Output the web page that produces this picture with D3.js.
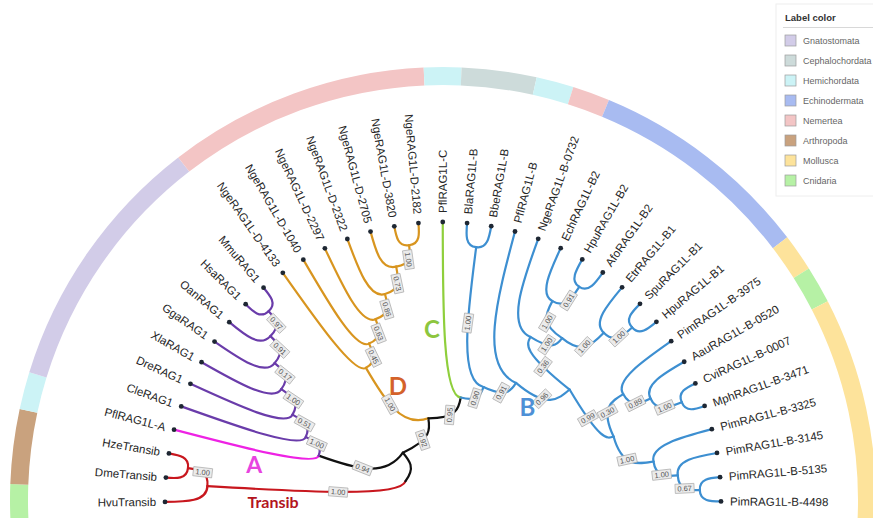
<!DOCTYPE html>
<html>
<head>
<meta charset="utf-8">
<script src="https://cdn.jsdelivr.net/npm/d3@7"></script>
<style>
  html, body { margin: 0; padding: 0; background: #fff; }
  svg { display: block; }
</style>
</head>
<body>
<svg id="chart" width="873" height="518"></svg>
<script>
// ---- Data -----------------------------------------------------------------
// RAG1 / RAG1-like / Transib tree: branch lengths and support values (Newick).
const newick =
  "(" +
    "(HvuTransib:0.42,(DmeTransib:0.21,HzeTransib:0.21)1.00:0.21)1.00:1.94," +
    "(" +
      "(PflRAG1L-A:1.46,(CleRAG1:1.27,(DreRAG1:1.05,(XlaRAG1:0.82,(GgaRAG1:0.61,(OanRAG1:0.40,(HsaRAG1:0.21,MmuRAG1:0.21)0.97:0.19)0.91:0.21)0.17:0.21)1.00:0.23)0.51:0.22)1.00:0.19)0.94:0.70," +
      "(" +
        "(NgeRAG1L-D-4133:1.25,(NgeRAG1L-D-1040:1.05,(NgeRAG1L-D-2297:0.85,(NgeRAG1L-D-2322:0.64,(NgeRAG1L-D-2705:0.40,(NgeRAG1L-D-3820:0.21,NgeRAG1L-D-2182:0.21)1.00:0.19)0.73:0.24)0.86:0.21)0.63:0.20)0.45:0.20)1.00:0.70," +
        "(PflRAG1L-C:1.74," +
          "((BlaRAG1L-B:0.23,BbeRAG1L-B:0.23)1.00:1.35," +
           "(PflRAG1L-B:1.40," +
             "((NgeRAG1L-B-0732:0.93,((EchRAG1L-B2:0.51,(HpuRAG1L-B2:0.25,AfoRAG1L-B2:0.25)0.91:0.26)1.00:0.26,(EtrRAG1L-B1:0.46,(SpuRAG1L-B1:0.22,HpuRAG1L-B1:0.22)1.00:0.24)1.00:0.31)1.00:0.16)0.36:0.17," +
              "((PimRAG1L-B-3975:0.69,(AauRAG1L-B-0520:0.47,(CviRAG1L-B-0007:0.20,MphRAG1L-B-3471:0.20)1.00:0.27)0.89:0.22)0.30:0.27," +
               "(PimRAG1L-B-3325:0.64,(PimRAG1L-B-3145:0.42,(PimRAG1L-B-5135:0.21,PimRAG1L-B-4498:0.21)0.67:0.21)1.00:0.22)1.00:0.32)0.99:0.14" +
             ")0.96:0.30" +
           ")0.91:0.18" +
          ")0.90:0.16" +
        ")0.95:0.21" +
      ")0.92:0.21" +
    "):0.20" +
  ");";

// Taxonomic groups used for the outer colour ring and the legend
const taxa = ["Gnatostomata", "Cephalochordata", "Hemichordata", "Echinodermata",
              "Nemertea", "Arthropoda", "Mollusca", "Cnidaria"];
const taxonColors = ["#d2cce8", "#cddbda", "#ccf3f6", "#a8bbf1",
                     "#f3c5c5", "#c9a27e", "#fde39b", "#b6f1a5"];

const leafTaxon = {
  "HvuTransib": "Cnidaria", "DmeTransib": "Arthropoda", "HzeTransib": "Arthropoda",
  "PflRAG1L-A": "Hemichordata",
  "CleRAG1": "Gnatostomata", "DreRAG1": "Gnatostomata", "XlaRAG1": "Gnatostomata",
  "GgaRAG1": "Gnatostomata", "OanRAG1": "Gnatostomata", "HsaRAG1": "Gnatostomata",
  "MmuRAG1": "Gnatostomata",
  "NgeRAG1L-D-4133": "Nemertea", "NgeRAG1L-D-1040": "Nemertea", "NgeRAG1L-D-2297": "Nemertea",
  "NgeRAG1L-D-2322": "Nemertea", "NgeRAG1L-D-2705": "Nemertea", "NgeRAG1L-D-3820": "Nemertea",
  "NgeRAG1L-D-2182": "Nemertea",
  "PflRAG1L-C": "Hemichordata",
  "BlaRAG1L-B": "Cephalochordata", "BbeRAG1L-B": "Cephalochordata",
  "PflRAG1L-B": "Hemichordata", "NgeRAG1L-B-0732": "Nemertea",
  "EchRAG1L-B2": "Echinodermata", "HpuRAG1L-B2": "Echinodermata", "AfoRAG1L-B2": "Echinodermata",
  "EtrRAG1L-B1": "Echinodermata", "SpuRAG1L-B1": "Echinodermata", "HpuRAG1L-B1": "Echinodermata",
  "PimRAG1L-B-3975": "Mollusca", "AauRAG1L-B-0520": "Cnidaria", "CviRAG1L-B-0007": "Mollusca",
  "MphRAG1L-B-3471": "Mollusca", "PimRAG1L-B-3325": "Mollusca", "PimRAG1L-B-3145": "Mollusca",
  "PimRAG1L-B-5135": "Mollusca", "PimRAG1L-B-4498": "Mollusca"
};

// Clades and their branch colours
const cladeNames  = ["Transib", "A", "RAG1", "D", "C", "B"];
const cladeColors = ["#c8171e", "#ee22e4", "#6a3caa", "#d8951f", "#8fcf3c", "#3d8fd1"];
const cladeMembers = [
  ["HvuTransib", "DmeTransib", "HzeTransib"],
  ["PflRAG1L-A"],
  ["CleRAG1", "MmuRAG1"],
  ["NgeRAG1L-D-4133", "NgeRAG1L-D-2182"],
  ["PflRAG1L-C"],
  ["BlaRAG1L-B", "PimRAG1L-B-4498"]
];

// ---- Newick parser -----------------------------------------------------------
function parseNewick(s) {
  let i = 0;
  function node() {
    const n = { children: [] };
    if (s[i] === "(") {
      i++;
      n.children.push(node());
      while (s[i] === ",") { i++; n.children.push(node()); }
      i++; // closing parenthesis
    }
    let name = "";
    while (i < s.length && !",():;".includes(s[i])) name += s[i++];
    n.name = name.trim();
    if (s[i] === ":") {
      i++;
      let len = "";
      while (i < s.length && !",();".includes(s[i])) len += s[i++];
      n.length = +len;
    }
    if (!n.children.length) delete n.children;
    return n;
  }
  return node();
}

// ---- Layout ----------------------------------------------------------------
const cx = 443, cy = 500;
const tipR = 278;
const ringInner = 415, ringOuter = 433;

const root = d3.hierarchy(parseNewick(newick));
const leaves = root.leaves();
const leafNames = leaves.map(d => d.data.name);

// leaves evenly spread over the half circle (degrees, counter-clockwise from east)
const angleScale = d3.scalePoint().domain(leafNames).range([180.4, -0.3]);
const step = Math.abs(angleScale(leafNames[1]) - angleScale(leafNames[0]));

root.eachBefore(d => { d.len = d.parent ? d.parent.len + (d.data.length || 0) : 0; });
const rScale = d3.scaleLinear().domain([0, d3.max(leaves, d => d.len)]).range([42, tipR]);

root.eachAfter(d => {
  d.angle = d.children ? d3.mean(d.children, c => c.angle) : angleScale(d.data.name);
  d.r = d.children ? rScale(d.len) : tipR;
  d.color = "#111";
});

// colour each clade from its most recent common ancestor
cladeMembers.forEach((members, k) => {
  let anc = leaves.find(l => l.data.name === members[0]);
  const all = () => members.every(m => anc.leaves().some(l => l.data.name === m));
  while (!all()) anc = anc.parent;
  anc.each(d => { d.color = cladeColors[k]; });
});

function pt(a, r) {
  const t = a * Math.PI / 180;
  return [cx + r * Math.cos(t), cy - r * Math.sin(t)];
}
function textRot(a) { return a > 91 ? 180 - a : -a; }

// link: leaves the parent along its circle, arrives radially at the child
function linkPath(s, t) {
  const p0 = pt(s.angle, s.r);
  const c1 = pt(t.angle, s.r);
  const c2 = pt(t.angle, (s.r + t.r) / 2);
  const p3 = pt(t.angle, t.r);
  const p = d3.path();
  p.moveTo(p0[0], p0[1]);
  p.bezierCurveTo(c1[0], c1[1], c2[0], c2[1], p3[0], p3[1]);
  return p.toString();
}

const svg = d3.select("#chart");

// ---- Outer colour ring ---------------------------------------------------------
const runs = [];
leaves.forEach(l => {
  const tx = leafTaxon[l.data.name];
  const last = runs[runs.length - 1];
  if (last && last.taxon === tx) last.lo = l.angle;
  else runs.push({ taxon: tx, hi: l.angle, lo: l.angle });
});
const arc = d3.arc().innerRadius(ringInner).outerRadius(ringOuter);
const toRad = a => (90 - a) * Math.PI / 180;
svg.append("g")
  .attr("transform", `translate(${cx},${cy})`)
  .selectAll("path")
  .data(runs)
  .join("path")
  .attr("d", d => arc({ startAngle: toRad(d.hi + step / 2), endAngle: toRad(d.lo - step / 2) }))
  .attr("fill", d => taxonColors[taxa.indexOf(d.taxon)]);

// ---- Branches ------------------------------------------------------------------
const gLinks = svg.append("g")
  .attr("fill", "none")
  .attr("stroke-width", 2.2)
  .attr("stroke-linecap", "round");
const linkSel = gLinks.selectAll("path")
  .data(root.links())
  .join("path")
  .attr("d", d => linkPath(d.source, d.target))
  .attr("stroke", d => d.target.color);

// ---- Tips ------------------------------------------------------------------------
svg.append("g").selectAll("circle")
  .data(leaves)
  .join("circle")
  .attr("cx", d => pt(d.angle, d.r)[0])
  .attr("cy", d => pt(d.angle, d.r)[1])
  .attr("r", 2.4)
  .attr("fill", "#1e2733");

svg.append("g")
  .attr("font-family", "'Liberation Sans', Arial, sans-serif")
  .attr("font-size", 11.5)
  .attr("fill", "#262626")
  .selectAll("text")
  .data(leaves)
  .join("text")
  .attr("transform", d => {
    const p = pt(d.angle, tipR + 9);
    return `translate(${p[0]},${p[1]}) rotate(${textRot(d.angle)})`;
  })
  .attr("text-anchor", d => d.angle > 91 ? "end" : "start")
  .attr("dy", "0.35em")
  .text(d => d.data.name);

// ---- Support values on branches ------------------------------------------------
const supports = [];
linkSel.each(function (d) {
  if (!d.target.children || !d.target.data.name) return;
  const L = this.getTotalLength();
  const p = this.getPointAtLength(Math.min(L / 2, 70));
  const a = Math.atan2(cy - p.y, p.x - cx) * 180 / Math.PI;
  supports.push({ x: p.x, y: p.y, a: a, v: d.target.data.name });
});
const gSup = svg.append("g").selectAll("g")
  .data(supports)
  .join("g")
  .attr("transform", d => `translate(${d.x},${d.y}) rotate(${textRot(d.a)})`);
gSup.append("rect")
  .attr("x", -9.5).attr("y", -4.6).attr("width", 19).attr("height", 9.2)
  .attr("fill", "#ebebeb").attr("stroke", "#a9a9a9").attr("stroke-width", 0.7);
gSup.append("text")
  .attr("text-anchor", "middle")
  .attr("dy", "0.35em")
  .attr("font-family", "'Liberation Sans', Arial, sans-serif")
  .attr("font-size", 7.5)
  .attr("fill", "#555")
  .text(d => d.v);

// ---- Clade names -------------------------------------------------------------------
const cladeTags = [
  { text: "Transib", color: "#b3151d", size: 16, a: 180.7, r: 170 },
  { text: "A", color: "#e843e0", size: 23, a: 169.5, r: 192 },
  { text: "D", color: "#d4622a", size: 24, a: 111.7, r: 122 },
  { text: "C", color: "#8dc63f", size: 24, a: 93.7, r: 171 },
  { text: "B", color: "#4e90d6", size: 24, a: 47.6, r: 125 }
];
svg.append("g")
  .attr("font-family", "Lato, 'Open Sans', sans-serif")
  .attr("font-weight", 700)
  .attr("text-anchor", "middle")
  .selectAll("text")
  .data(cladeTags)
  .join("text")
  .attr("x", d => pt(d.a, d.r)[0])
  .attr("y", d => pt(d.a, d.r)[1])
  .attr("dy", "0.36em")
  .attr("font-size", d => d.size)
  .attr("fill", d => d.color)
  .text(d => d.text);

// ---- Legend --------------------------------------------------------------------------
const legend = svg.append("g").attr("transform", "translate(776,4)")
  .attr("font-family", "'Liberation Sans', Arial, sans-serif");
legend.append("rect")
  .attr("width", 110).attr("height", 192)
  .attr("fill", "#fff").attr("stroke", "#eeeeee");
legend.append("text")
  .attr("x", 9).attr("y", 17)
  .attr("font-size", 9.5).attr("font-weight", 700).attr("fill", "#333")
  .text("Label color");
legend.append("line")
  .attr("x1", 7).attr("x2", 110).attr("y1", 23.5).attr("y2", 23.5)
  .attr("stroke", "#d8d8d8");
const items = legend.selectAll("g.item")
  .data(taxa)
  .join("g")
  .attr("class", "item")
  .attr("transform", (d, i) => `translate(9,${31 + i * 20})`);
items.append("rect")
  .attr("width", 11).attr("height", 11)
  .attr("fill", (d, i) => taxonColors[i])
  .attr("stroke", "#9c9c9c").attr("stroke-width", 0.7);
items.append("text")
  .attr("x", 18).attr("y", 5.5).attr("dy", "0.35em")
  .attr("font-size", 9).attr("fill", "#666")
  .text(d => d);
</script>
</body>
</html>
